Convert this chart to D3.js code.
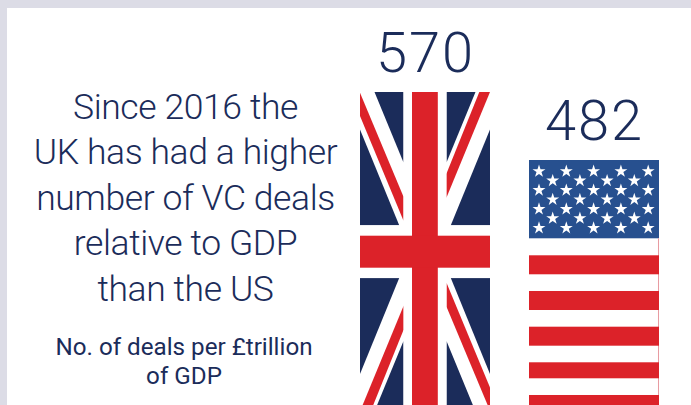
<!DOCTYPE html>
<html><head><meta charset="utf-8">
<script src="https://cdn.jsdelivr.net/npm/d3@7"></script>
<style>html,body{margin:0;padding:0;background:#fff}svg{display:block}</style>
</head><body><svg id="c" width="691" height="405"></svg>
<script>
const categories = ["UK", "US"];
const dealsPerTrillion = [570, 482];
const headlineLines = ["Since 2016 the", "UK has had a higher", "number of VC deals", "relative to GDP", "than the US"];
const noteLines = ["No. of deals per £trillion", "of GDP"];

const NAVY = "#1b2c5a", RED = "#dc2229", BLUE = "#27508f", INK = "#1b2c5a", EDGE = "#dcdce6";
const FONT = "Roboto, Lato, sans-serif";

const svg = d3.select("#c");
svg.append("rect").attr("width", 691).attr("height", 405).attr("fill", EDGE);
svg.append("rect").attr("x", 7).attr("y", 8).attr("width", 684).attr("height", 397).attr("fill", "#fff");

const x = d3.scaleBand().domain(categories).range([360, 659]).paddingInner(0.2308).paddingOuter(0);
const y = d3.scaleLinear().domain([0, 570]).range([532.4, 92]);
const w = x.bandwidth();

// Headline and note
svg.append("g").selectAll("text").data(headlineLines).join("text")
  .attr("x", 185.5).attr("y", (d, i) => 118.5 + i * 45.5)
  .attr("text-anchor", "middle").attr("fill", INK)
  .attr("font-family", FONT).attr("font-weight", 300).attr("font-size", 35.5)
  .attr("letter-spacing", -0.4).text(d => d);
svg.append("g").selectAll("text").data(noteLines).join("text")
  .attr("x", 184).attr("y", (d, i) => 355 + i * 28.5)
  .attr("text-anchor", "middle").attr("fill", INK)
  .attr("font-family", FONT).attr("font-weight", 400).attr("font-size", 24.2).text(d => d);

// Value labels
svg.append("g").selectAll("text").data(categories).join("text")
  .attr("x", d => x(d) + w / 2 + 0.5)
  .attr("y", (d, i) => y(dealsPerTrillion[i]) - 20)
  .attr("text-anchor", "middle").attr("fill", INK)
  .attr("font-family", FONT).attr("font-weight", 300).attr("font-size", 56)
  .attr("letter-spacing", 2)
  .text((d, i) => dealsPerTrillion[i]);

// Bars, each clipped to its scaled rectangle and painted as a flag
const bars = svg.append("g").selectAll("g").data(categories).join("g")
  .attr("transform", (d, i) => `translate(${x(d)},${y(dealsPerTrillion[i])})`);
bars.append("clipPath").attr("id", d => "clip" + d).append("rect")
  .attr("width", w).attr("height", (d, i) => y(0) - y(dealsPerTrillion[i]));
const flags = bars.append("g").attr("clip-path", d => `url(#clip${d})`);

function drawUnionJack(g) {
  const H = 319.4;
  g.append("rect").attr("width", w).attr("height", H).attr("fill", "#fff");
  const navy = [[[14.5, 0], [43.5, 0], [43.5, 70.5]], [[0, 37.5], [39.2, 133.3], [0, 133.3]]];
  const redA = [[0, 0.7], [43.5, 104.7], [43.5, 128.7], [0, 24]];
  const redB = [[119.3, 0], [130, 0], [86.3, 106], [86.3, 82]];
  const mx = p => [w - p[0], p[1]], my = p => [p[0], H - p[1]], mxy = p => mx(my(p));
  const line = d3.line();
  [p => p, mx, my, mxy].forEach(m => {
    navy.forEach(s => g.append("path").attr("d", line(s.map(m)) + "Z").attr("fill", NAVY));
  });
  [redA, redA.map(mxy), redB, redB.map(mxy)].forEach(s =>
    g.append("path").attr("d", line(s) + "Z").attr("fill", RED));
  g.append("rect").attr("x", 43.5).attr("width", 43).attr("height", H).attr("fill", "#fff");
  g.append("rect").attr("y", 133.3).attr("width", w).attr("height", 52.8).attr("fill", "#fff");
  g.append("rect").attr("x", 52).attr("width", 25.8).attr("height", H).attr("fill", RED);
  g.append("rect").attr("y", 143.7).attr("width", w).attr("height", 32).attr("fill", RED);
}

function drawStars(g) {
  g.append("rect").attr("width", w).attr("height", 78.3).attr("fill", BLUE);
  g.append("path").attr("d", "M" + (w - 0.5) + ",78.3V235").attr("stroke", "#e89aa0").attr("stroke-width", 1);
  const reds = [[95.3, 19], [131, 19], [166.7, 19], [202.3, 16], [235, 20]];
  g.selectAll("rect.s").data(reds).join("rect").attr("class", "s")
    .attr("y", d => d[0]).attr("width", w).attr("height", d => d[1]).attr("fill", RED);
  const star = d3.symbol().type(d3.symbolStar).size(52)();
  const pts = [];
  d3.range(4).forEach(r => d3.range(5).forEach(c => pts.push([10 + c * 27.3, 11.3 + r * 18.9])));
  d3.range(3).forEach(r => d3.range(4).forEach(c => pts.push([23.7 + c * 27.2, 20.7 + r * 18.8])));
  g.selectAll("path.st").data(pts).join("path").attr("class", "st")
    .attr("d", star).attr("fill", "#fff").attr("transform", d => `translate(${d[0]},${d[1]})`);
}

flags.filter(d => d === "UK").call(drawUnionJack);
flags.filter(d => d === "US").call(drawStars);
</script></body></html>
